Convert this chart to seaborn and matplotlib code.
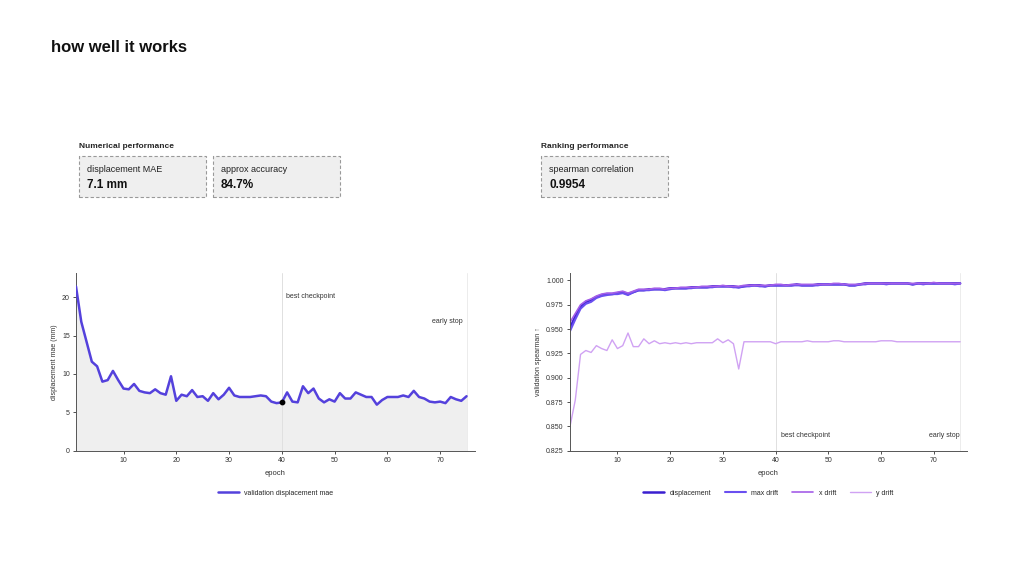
import numpy as np
import pandas as pd
import matplotlib
matplotlib.use("Agg")
import matplotlib.pyplot as plt
from matplotlib.patches import FancyBboxPatch
import seaborn as sns

sns.set_theme(style="ticks")
plt.rcParams['font.family'] = ['Liberation Sans', 'DejaVu Sans']

# ---------------- data ----------------
epochs = list(range(1, 76))

val_disp_mae = [21.4, 16.8, 14.2, 11.6, 11.0, 9.0, 9.2, 10.4, 9.2, 8.1,
                8.0, 8.7, 7.8, 7.6, 7.5, 8.0, 7.5, 7.3, 9.7, 6.5,
                7.3, 7.1, 7.9, 7.0, 7.1, 6.5, 7.5, 6.7, 7.3, 8.2,
                7.2, 7.0, 7.0, 7.0, 7.1, 7.2, 7.1, 6.4, 6.2, 6.3,
                7.6, 6.4, 6.3, 8.4, 7.5, 8.1, 6.8, 6.3, 6.7, 6.4,
                7.5, 6.8, 6.8, 7.6, 7.3, 7.0, 7.0, 6.0, 6.6, 7.0,
                7.0, 7.0, 7.2, 7.0, 7.8, 7.0, 6.8, 6.4, 6.3, 6.4,
                6.2, 7.0, 6.7, 6.5, 7.1]

sp_displacement = [0.951, 0.963, 0.973, 0.978, 0.980, 0.983, 0.985, 0.986, 0.986, 0.987,
                   0.988, 0.986, 0.988, 0.990, 0.990, 0.991, 0.991, 0.991, 0.991, 0.992,
                   0.992, 0.992, 0.992, 0.993, 0.993, 0.993, 0.993, 0.994, 0.994, 0.994,
                   0.994, 0.994, 0.993, 0.994, 0.995, 0.995, 0.995, 0.994, 0.995, 0.995,
                   0.995, 0.995, 0.995, 0.996, 0.995, 0.995, 0.995, 0.996, 0.996, 0.996,
                   0.996, 0.996, 0.996, 0.995, 0.995, 0.996, 0.997, 0.997, 0.997, 0.997,
                   0.997, 0.997, 0.997, 0.997, 0.997, 0.996, 0.997, 0.997, 0.997, 0.997,
                   0.997, 0.997, 0.997, 0.997, 0.997]
sp_max_drift = [0.948, 0.960, 0.971, 0.976, 0.978, 0.982, 0.984, 0.985, 0.986, 0.986,
                0.987, 0.985, 0.988, 0.990, 0.990, 0.990, 0.991, 0.991, 0.990, 0.991,
                0.992, 0.992, 0.992, 0.992, 0.993, 0.993, 0.993, 0.993, 0.994, 0.994,
                0.994, 0.993, 0.993, 0.994, 0.994, 0.995, 0.994, 0.994, 0.995, 0.995,
                0.995, 0.995, 0.995, 0.995, 0.995, 0.995, 0.995, 0.995, 0.996, 0.996,
                0.996, 0.996, 0.996, 0.995, 0.995, 0.996, 0.996, 0.997, 0.997, 0.997,
                0.996, 0.997, 0.997, 0.997, 0.997, 0.996, 0.997, 0.996, 0.997, 0.997,
                0.997, 0.997, 0.997, 0.996, 0.997]
sp_x_drift = [0.957, 0.966, 0.975, 0.979, 0.981, 0.984, 0.986, 0.987, 0.987, 0.988,
              0.989, 0.987, 0.989, 0.991, 0.991, 0.991, 0.992, 0.992, 0.991, 0.992,
              0.992, 0.993, 0.993, 0.993, 0.993, 0.994, 0.994, 0.994, 0.994, 0.995,
              0.994, 0.994, 0.994, 0.995, 0.995, 0.995, 0.995, 0.995, 0.995, 0.996,
              0.996, 0.995, 0.996, 0.996, 0.996, 0.996, 0.996, 0.996, 0.996, 0.996,
              0.997, 0.997, 0.996, 0.996, 0.996, 0.996, 0.997, 0.997, 0.997, 0.997,
              0.997, 0.997, 0.997, 0.997, 0.997, 0.997, 0.997, 0.997, 0.997, 0.998,
              0.997, 0.997, 0.997, 0.997, 0.997]
sp_y_drift = [0.850, 0.877, 0.924, 0.928, 0.926, 0.933, 0.930, 0.928, 0.939, 0.930,
              0.933, 0.946, 0.932, 0.932, 0.940, 0.935, 0.938, 0.935, 0.936, 0.935,
              0.936, 0.935, 0.936, 0.935, 0.936, 0.936, 0.936, 0.936, 0.940, 0.936,
              0.939, 0.935, 0.909, 0.937, 0.937, 0.937, 0.937, 0.937, 0.937, 0.935,
              0.937, 0.937, 0.937, 0.937, 0.937, 0.938, 0.937, 0.937, 0.937, 0.937,
              0.938, 0.938, 0.937, 0.937, 0.937, 0.937, 0.937, 0.937, 0.937, 0.938,
              0.938, 0.938, 0.937, 0.937, 0.937, 0.937, 0.937, 0.937, 0.937, 0.937,
              0.937, 0.937, 0.937, 0.937, 0.937]

best_epoch = 40
stop_epoch = 75

series_names = ["displacement", "max drift", "x drift", "y drift"]
series_colors = ["#3a1fd0", "#6a4ff0", "#a45ee8", "#d0a2f3"]
series_widths = [1.8, 1.5, 1.2, 1.0]

stat_groups = ["Numerical performance", "Ranking performance"]
stat_labels = ["displacement MAE", "approx accuracy", "spearman correlation"]
stat_values = ["7.1 mm", "84.7%", "0.9954"]

# ---------------- figure ----------------
fig = plt.figure(figsize=(10.24, 5.76), dpi=100)
fig.patch.set_facecolor("white")

fig.text(51 / 1024, 1 - 47 / 576, "how well it works", fontsize=12, fontweight="bold",
         va="center", ha="left", color="#111111")

def px(x, y):
    return x / 1024, 1 - y / 576

fig.text(*px(79, 147), stat_groups[0], fontsize=6, fontweight="bold", va="center", ha="left")
fig.text(*px(541, 147), stat_groups[1], fontsize=6, fontweight="bold", va="center", ha="left")
box_lefts = [79, 213, 541]
for bl, lab, val in zip(box_lefts, stat_labels, stat_values):
    x0, y0 = px(bl, 197)
    w = 127 / 1024
    h = 41 / 576
    rect = FancyBboxPatch((x0, y0), w, h, boxstyle="square,pad=0", transform=fig.transFigure,
                          facecolor="#efefef", edgecolor="#999999", linewidth=0.8,
                          linestyle=(0, (3, 2)))
    fig.patches.append(rect)
    fig.text(*px(bl + 8, 169), lab, fontsize=6.5, va="center", ha="left", color="#222222")
    fig.text(*px(bl + 8, 185), val, fontsize=8.5, fontweight="bold", va="center", ha="left",
             color="#111111")

# ---------------- left chart ----------------
axL = fig.add_axes([76 / 1024, 1 - 450.7 / 576, 399 / 1024, 178 / 576])
dfL = pd.DataFrame({"epoch": epochs, "mae": val_disp_mae})
axL.fill_between(dfL["epoch"], dfL["mae"], 0, color="#efefef", linewidth=0, zorder=1)
sns.lineplot(data=dfL, x="epoch", y="mae", ax=axL, color="#5441dc", linewidth=1.8,
             label="validation displacement mae", zorder=3)
axL.axvline(best_epoch, color="#e0e0e0", linewidth=0.7, zorder=2)
axL.axvline(stop_epoch, color="#ececec", linewidth=0.7, zorder=2)
axL.scatter([best_epoch], [val_disp_mae[epochs.index(best_epoch)]], s=10, color="black", zorder=4)
axL.set_xlim(1, 76.6)
axL.set_ylim(0, 23.2)
axL.set_yticks([0, 5, 10, 15, 20])
axL.set_xticks([10, 20, 30, 40, 50, 60, 70])
axL.text(best_epoch + 0.8, 20.1, "best checkpoint", fontsize=5, color="#333333", va="center")
axL.text(stop_epoch - 0.8, 16.8, "early stop", fontsize=5, color="#333333", va="center", ha="right")
axL.set_xlabel("epoch", fontsize=5.5, color="#333333", labelpad=4)
axL.set_ylabel("displacement mae (mm)", fontsize=5, color="#333333", labelpad=3)
axL.legend(loc="upper center", bbox_to_anchor=(0.5, -0.185), frameon=False, fontsize=5,
           handlelength=3)

# ---------------- right chart ----------------
axR = fig.add_axes([570 / 1024, 1 - 450.7 / 576, 397 / 1024, 178 / 576])
dfR = pd.DataFrame({"epoch": epochs * 4,
                    "value": sp_displacement + sp_max_drift + sp_x_drift + sp_y_drift,
                    "series": sum([[n] * len(epochs) for n in series_names], [])})
for name, col, lw in zip(series_names, series_colors, series_widths):
    sub = dfR[dfR["series"] == name]
    sns.lineplot(data=sub, x="epoch", y="value", ax=axR, color=col, linewidth=lw, label=name)
axR.axvline(best_epoch, color="#e0e0e0", linewidth=0.7, zorder=0)
axR.axvline(stop_epoch, color="#ececec", linewidth=0.7, zorder=0)
axR.set_xlim(1, 76.3)
axR.set_ylim(0.825, 1.008)
yt = np.arange(0.825, 1.0001, 0.025)
axR.set_yticks(yt)
axR.set_yticklabels([f"{v:.3f}" for v in yt])
axR.set_xticks([10, 20, 30, 40, 50, 60, 70])
axR.text(best_epoch + 1.0, 0.8405, "best checkpoint", fontsize=5, color="#333333", va="center")
axR.text(stop_epoch - 0.1, 0.8405, "early stop", fontsize=5, color="#333333", va="center", ha="right")
axR.set_xlabel("epoch", fontsize=5.5, color="#333333", labelpad=4)
axR.set_ylabel("validation spearman ↑", fontsize=5, color="#333333", labelpad=3)
axR.legend(loc="upper center", bbox_to_anchor=(0.5, -0.185), frameon=False, fontsize=5,
           ncol=4, handlelength=3, columnspacing=2)

for ax in (axL, axR):
    sns.despine(ax=ax)
    ax.tick_params(labelsize=5, length=2.5, width=0.6, colors="#333333", pad=2)
    for s in ("left", "bottom"):
        ax.spines[s].set_linewidth(0.7)
        ax.spines[s].set_color("#555555")
    ax.set_facecolor("white")

fig.savefig("out.png", dpi=100, facecolor="white")
